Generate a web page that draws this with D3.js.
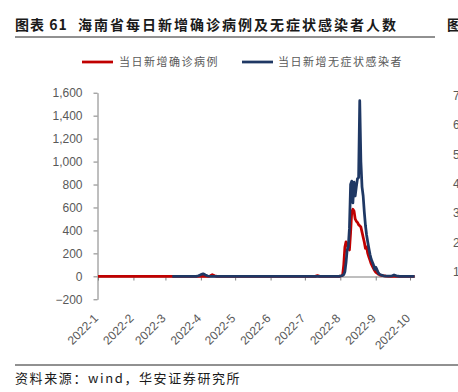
<!DOCTYPE html>
<html>
<head>
<meta charset="utf-8">
<script src="https://cdn.jsdelivr.net/npm/d3@7"></script>
<style>
  body { margin: 0; background: #fff; }
  svg { display: block; }
</style>
</head>
<body>
<script>
// daily new confirmed cases (red), sparse where the line sits flat on zero
var confirmed = [
  ["2022-01-01", 0], ["2022-04-08", 0], ["2022-04-09", 3], ["2022-04-11", 14], ["2022-04-13", 5],
  ["2022-04-15", 0], ["2022-07-10", 0], ["2022-07-12", 6], ["2022-07-14", 0], ["2022-07-31", 0],
  ["2022-08-01", 3], ["2022-08-02", 5], ["2022-08-03", 10], ["2022-08-04", 100], ["2022-08-05", 255],
  ["2022-08-06", 300], ["2022-08-07", 280], ["2022-08-08", 243], ["2022-08-09", 230], ["2022-08-10", 380],
  ["2022-08-11", 560], ["2022-08-12", 585], ["2022-08-13", 570], ["2022-08-14", 500], ["2022-08-15", 480],
  ["2022-08-16", 470], ["2022-08-17", 450], ["2022-08-18", 440], ["2022-08-19", 430], ["2022-08-20", 385],
  ["2022-08-21", 340], ["2022-08-22", 298], ["2022-08-23", 243], ["2022-08-24", 255], ["2022-08-25", 200],
  ["2022-08-26", 168], ["2022-08-27", 140], ["2022-08-28", 110], ["2022-08-29", 90], ["2022-08-30", 70],
  ["2022-08-31", 50], ["2022-09-01", 35], ["2022-09-02", 30], ["2022-09-03", 20], ["2022-09-04", 15],
  ["2022-09-05", 10], ["2022-09-07", 6], ["2022-09-10", 2], ["2022-09-14", 0], ["2022-10-05", 0]
];

// daily new asymptomatic infections (blue)
var asymptomatic = [
  ["2022-03-07", 0], ["2022-03-28", 0], ["2022-03-30", 5], ["2022-04-01", 15], ["2022-04-03", 22],
  ["2022-04-05", 12], ["2022-04-07", 3], ["2022-04-10", 0], ["2022-07-31", 0], ["2022-08-01", 3],
  ["2022-08-02", 5], ["2022-08-03", 8], ["2022-08-04", 15], ["2022-08-05", 40], ["2022-08-06", 120],
  ["2022-08-07", 230], ["2022-08-08", 260], ["2022-08-09", 420], ["2022-08-10", 800], ["2022-08-11", 830],
  ["2022-08-12", 640], ["2022-08-13", 820], ["2022-08-14", 700], ["2022-08-15", 780], ["2022-08-16", 850],
  ["2022-08-17", 860], ["2022-08-18", 1530], ["2022-08-19", 1000], ["2022-08-20", 780], ["2022-08-21", 700],
  ["2022-08-22", 560], ["2022-08-23", 443], ["2022-08-24", 360], ["2022-08-25", 300], ["2022-08-26", 243],
  ["2022-08-27", 190], ["2022-08-28", 150], ["2022-08-29", 125], ["2022-08-30", 100], ["2022-08-31", 60],
  ["2022-09-01", 80], ["2022-09-02", 60], ["2022-09-03", 37], ["2022-09-04", 20], ["2022-09-05", 15],
  ["2022-09-06", 10], ["2022-09-08", 5], ["2022-09-12", 2], ["2022-09-15", 3], ["2022-09-17", 12],
  ["2022-09-19", 4], ["2022-09-22", 0], ["2022-10-05", 0]
];

var seriesNames = ["当日新增确诊病例", "当日新增无症状感染者"];
var yTicks = [-200, 0, 200, 400, 600, 800, 1000, 1200, 1400, 1600];
var monthLabels = ["2022-1", "2022-2", "2022-3", "2022-4", "2022-5", "2022-6", "2022-7", "2022-8", "2022-9", "2022-10"];
// axis labels of the neighbouring chart, cut by the right edge
var nextChartTicks = ["70", "60", "50", "40", "30", "20", "10"];

var titleText = "海南省每日新增确诊病例及无症状感染者人数";
var sourceText = "资料来源：wind，华安证券研究所";

var width = 458, height = 392;
var red = "#c00000", navy = "#1f3864", grey = "#595959";
var cjk = "'Noto Sans CJK SC', sans-serif";
var latin = "'Liberation Sans', Arial, sans-serif";

var parse = d3.utcParse("%Y-%m-%d");

var svg = d3.select("body").append("svg")
    .attr("width", width)
    .attr("height", height);

// title block
svg.append("text")
    .attr("x", 15).attr("y", 30)
    .attr("font-family", cjk).attr("font-weight", 700)
    .attr("font-size", 14).attr("letter-spacing", "1px")
    .attr("fill", "#1a1a1a")
    .text("图表 61");
svg.append("text")
    .attr("x", 78).attr("y", 30)
    .attr("font-family", cjk).attr("font-weight", 700)
    .attr("font-size", 14).attr("letter-spacing", "2px")
    .attr("fill", "#1a1a1a")
    .text(titleText);
svg.append("text")
    .attr("x", 447).attr("y", 30)
    .attr("font-family", cjk).attr("font-weight", 700)
    .attr("font-size", 14)
    .attr("fill", "#1a1a1a")
    .text("图");
svg.append("line")
    .attr("x1", 15).attr("x2", 435)
    .attr("y1", 37).attr("y2", 37)
    .attr("stroke", "#222").attr("stroke-width", 1);

// legend
var legendPos = [{lx: 82, tx: 119}, {lx: 242, tx: 278}];
var legend = svg.selectAll(".legend")
    .data(seriesNames)
    .enter().append("g")
    .attr("class", "legend");
legend.append("line")
    .attr("x1", function(d, i) { return legendPos[i].lx; })
    .attr("x2", function(d, i) { return legendPos[i].lx + 31; })
    .attr("y1", 62).attr("y2", 62)
    .attr("stroke", function(d, i) { return i == 0 ? red : navy; })
    .attr("stroke-width", 2.75);
legend.append("text")
    .attr("x", function(d, i) { return legendPos[i].tx; })
    .attr("y", 66)
    .attr("font-family", cjk).attr("font-size", 11)
    .attr("letter-spacing", "1.5px")
    .attr("fill", grey)
    .text(function(d) { return d; });

// scales
var x = d3.scaleUtc()
    .domain([parse("2022-01-01"), parse("2022-10-05")])
    .range([98, 414.6]);
var y = d3.scaleLinear()
    .domain([-200, 1600])
    .range([299.3, 92.7]);

// y axis
var yAxis = svg.append("g")
    .attr("transform", "translate(97.5,0)")
    .call(d3.axisLeft(y).tickValues(yTicks).tickSize(4).tickSizeOuter(0).tickPadding(11)
        .tickFormat(d3.format(",")));
yAxis.select(".domain").attr("stroke", "#7f7f7f");
yAxis.selectAll(".tick line").attr("stroke", "#7f7f7f");
yAxis.selectAll(".tick text")
    .attr("font-family", latin).attr("font-size", 12).attr("fill", grey);

// x axis on the zero line, month ticks pointing down
var months = d3.utcMonth.range(parse("2022-01-01"), parse("2022-10-02"));
var xAxis = svg.append("g")
    .attr("transform", "translate(0," + (Math.round(y(0)) + 0.5) + ")")
    .call(d3.axisBottom(x).tickValues(months).tickSize(4).tickSizeOuter(0).tickFormat(""));
xAxis.select(".domain").attr("stroke", "#7f7f7f");
xAxis.selectAll(".tick line").attr("stroke", "#7f7f7f");

// rotated month labels below the plot
svg.selectAll(".month-label")
    .data(months)
    .enter().append("text")
    .attr("class", "month-label")
    .attr("transform", function(d) { return "translate(" + (x(d) + 1) + ",319) rotate(-45)"; })
    .attr("text-anchor", "end")
    .attr("font-family", latin).attr("font-size", 12).attr("fill", grey)
    .text(function(d, i) { return monthLabels[i]; });

// lines
var line = d3.line()
    .x(function(d) { return x(parse(d[0])); })
    .y(function(d) { return y(d[1]); });

svg.append("path")
    .datum(confirmed)
    .attr("fill", "none")
    .attr("stroke", red)
    .attr("stroke-width", 2.75)
    .attr("stroke-linejoin", "round")
    .attr("d", line);

svg.append("path")
    .datum(asymptomatic)
    .attr("fill", "none")
    .attr("stroke", navy)
    .attr("stroke-width", 2.75)
    .attr("stroke-linejoin", "round")
    .attr("d", line);

// neighbouring chart's axis labels, clipped by the page edge
var yNext = d3.scaleLinear().domain([0, 6]).range([96, 272]);
svg.selectAll(".next-tick")
    .data(nextChartTicks)
    .enter().append("text")
    .attr("class", "next-tick")
    .attr("x", 453)
    .attr("y", function(d, i) { return yNext(i) + 4; })
    .attr("font-family", latin).attr("font-size", 12).attr("fill", grey)
    .text(function(d) { return d; });

// footer
svg.append("line")
    .attr("x1", 15).attr("x2", 458)
    .attr("y1", 365).attr("y2", 365)
    .attr("stroke", "#222").attr("stroke-width", 1);
svg.append("text")
    .attr("x", 15).attr("y", 383)
    .attr("font-family", cjk).attr("font-size", 13)
    .attr("letter-spacing", "1.6px")
    .attr("fill", "#1a1a1a")
    .text(sourceText);
</script>
</body>
</html>
